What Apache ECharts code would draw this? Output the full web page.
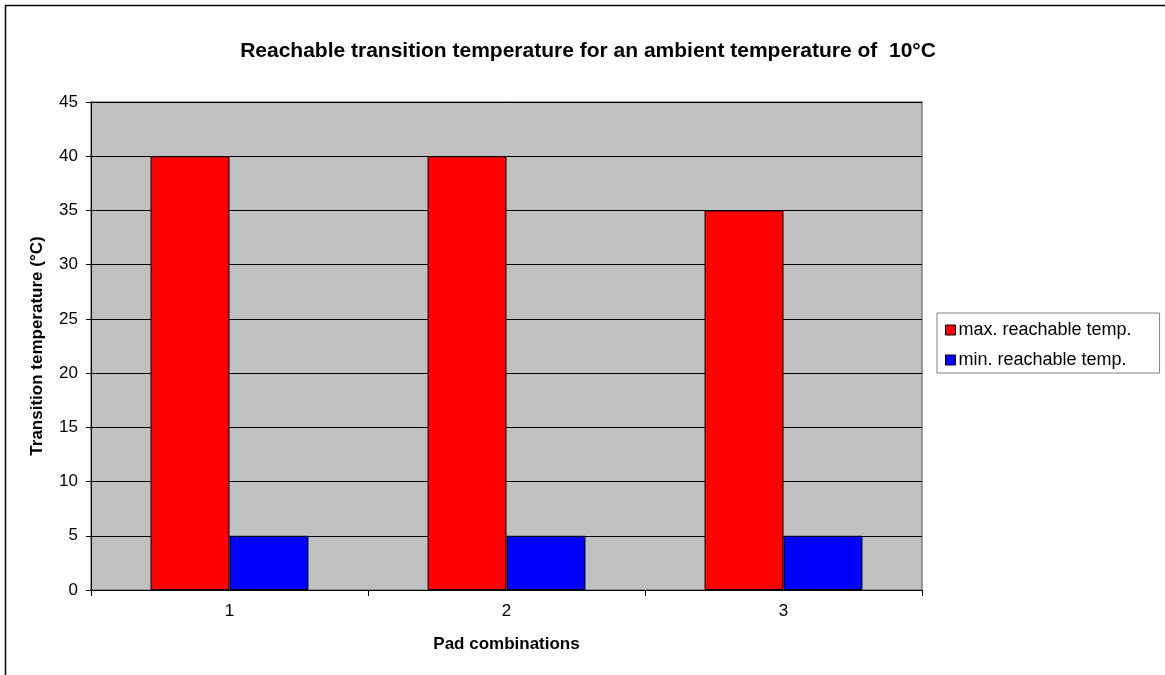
<!DOCTYPE html>
<html><head><meta charset="utf-8">
<script src="https://cdn.jsdelivr.net/npm/echarts@6/dist/echarts.min.js"></script>
<style>html,body{margin:0;padding:0;background:#fff}#c{width:1165px;height:675px}</style>
</head><body><div id="c"></div>
<script>
const categories = ['1', '2', '3'];
const maxTemp = [40, 40, 35];
const minTemp = [5, 5, 5];
const yTicks = { min: 0, max: 45, interval: 5 };

const chart = echarts.init(document.getElementById('c'), null, { renderer: 'canvas' });
const F = 'Liberation Sans, Arial, sans-serif';
chart.setOption({
  animation: false,
  backgroundColor: '#fff',
  graphic: [{
    type: 'rect', shape: { x: 5.5, y: 5.5, width: 1200, height: 700 },
    style: { fill: 'none', stroke: '#000', lineWidth: 1.5 }, z: -1
  }],
  title: {
    text: 'Reachable transition temperature for an ambient temperature of  10°C',
    left: 583, top: 36, textAlign: 'center',
    textStyle: { fontFamily: F, fontSize: 21, fontWeight: 'bold', color: '#000' }
  },
  legend: {
    orient: 'vertical', left: 937, top: 313,
    padding: [7, 28, 3, 8], itemGap: 10,
    borderColor: '#808080', borderWidth: 1, backgroundColor: '#fff',
    itemWidth: 10, itemHeight: 10, icon: 'rect',
    itemStyle: { borderColor: '#000', borderWidth: 1 },
    textStyle: { fontFamily: F, fontSize: 18, lineHeight: 20, color: '#000', padding: [0, 0, 0, -2] },
    data: ['max. reachable temp.', 'min. reachable temp.']
  },
  grid: {
    left: 91, top: 102, width: 831, height: 488,
    show: true, backgroundColor: '#c0c0c0', borderColor: '#808080', borderWidth: 1.5
  },
  xAxis: {
    type: 'category', data: categories,
    name: 'Pad combinations', nameLocation: 'middle', nameGap: 46,
    nameTextStyle: { fontFamily: F, fontSize: 17, fontWeight: 'bold', color: '#000' },
    axisLine: { lineStyle: { color: '#000', width: 1 } },
    axisTick: { show: true, length: 6, lineStyle: { color: '#000' } },
    axisLabel: { fontFamily: F, fontSize: 17, color: '#000', margin: 13 }
  },
  yAxis: {
    type: 'value', min: yTicks.min, max: yTicks.max, interval: yTicks.interval,
    name: 'Transition temperature (°C)', nameLocation: 'middle', nameGap: 45,
    nameTextStyle: { fontFamily: F, fontSize: 17, fontWeight: 'bold', color: '#000' },
    axisLine: { show: true, lineStyle: { color: '#000', width: 1 } },
    axisTick: { show: true, length: 5, lineStyle: { color: '#000' } },
    axisLabel: { fontFamily: F, fontSize: 17, color: '#000', margin: 13 },
    splitLine: { show: true, lineStyle: { color: '#000', width: 1 } }
  },
  series: [
    { name: 'max. reachable temp.', type: 'bar', data: maxTemp, barGap: '0%', barCategoryGap: '43%',
      itemStyle: { color: '#ff0000', borderColor: '#000', borderWidth: 1 } },
    { name: 'min. reachable temp.', type: 'bar', data: minTemp,
      itemStyle: { color: '#0000ff', borderColor: '#000', borderWidth: 1 } }
  ]
});
</script></body></html>
